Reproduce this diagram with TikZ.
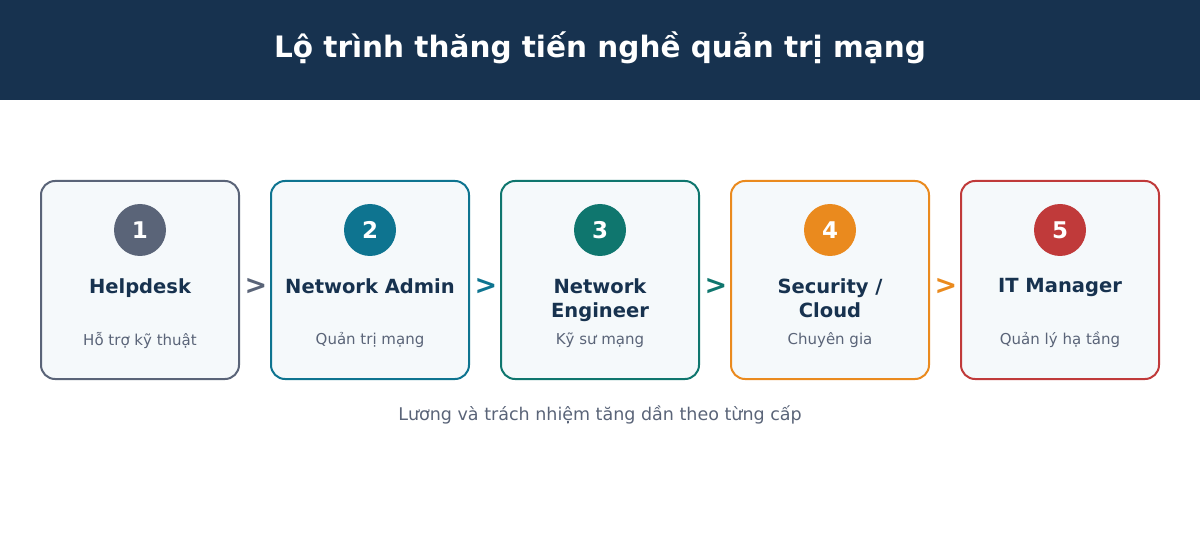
\documentclass[tikz,border=0pt]{standalone}
\usepackage{fontspec}
\setmainfont{DejaVu Sans}
\usetikzlibrary{positioning}
\definecolor{navy}{HTML}{17324F}
\definecolor{slate}{HTML}{5A6478}
\definecolor{cteal}{HTML}{0E7490}
\definecolor{cgreen}{HTML}{0F766E}
\definecolor{corange}{HTML}{EA8A1E}
\definecolor{cred}{HTML}{C03A3A}
\definecolor{boxfill}{HTML}{F5F9FB}
\tikzset{
  step/.style={draw=#1, line width=2pt, fill=boxfill, rounded corners=14pt,
    minimum width=198pt, minimum height=198pt, inner sep=0pt},
  badge/.style={circle, fill=#1, minimum size=52pt, inner sep=0pt,
    text=white, font=\bfseries\fontsize{23}{26}\selectfont},
  steptitle/.style={anchor=north, inner sep=0pt, align=center, text=navy,
    font=\bfseries\fontsize{19.5}{24}\selectfont},
  stepsub/.style={inner sep=0pt, text=slate, font=\fontsize{15}{18}\selectfont},
  chevron/.style={text=#1, font=\bfseries\fontsize{27}{30}\selectfont}
}
\begin{document}
\begin{tikzpicture}[x=1pt,y=-1pt]
	\useasboundingbox (0,0) rectangle (1200,540);
	\fill[navy] (0,0) rectangle (1200,100);
	\node[text=white, font=\bfseries\fontsize{29.5}{34}\selectfont] (title) at (600,48) {Lộ trình thăng tiến nghề quản trị mạng};
	
	\foreach \i/\c/\t/\s in {1/slate/Helpdesk/Hỗ trợ kỹ thuật,
		2/cteal/Network Admin/Quản trị mạng,
		3/cgreen/Network\\Engineer/Kỹ sư mạng,
		4/corange/{Security /\\Cloud}/Chuyên gia,
		5/cred/IT Manager/Quản lý hạ tầng} {
		\node[step=\c] (box\i) at (140+230*\i-230,280) {};
		\node[badge=\c] (num\i) at (140+230*\i-230,230) {\i};
		\node[steptitle] (name\i) at (140+230*\i-230,278) {\t};
		\node[stepsub] (sub\i) at (140+230*\i-230,340) {\s};
	}
	
	\foreach \i/\c in {1/slate,2/cteal,3/cgreen,4/corange} {
		\node[chevron=\c] (arr\i) at (256+230*\i-230,286) {>};
	}
	
	\node[text=slate, font=\fontsize{17.5}{20}\selectfont] (note) at (600,415) {Lương và trách nhiệm tăng dần theo từng cấp};
\end{tikzpicture}
\end{document}
